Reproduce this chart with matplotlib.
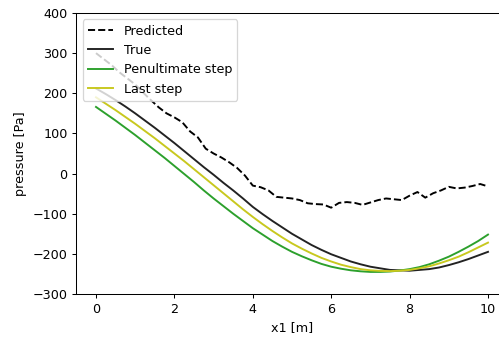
import matplotlib

matplotlib.use("Agg")

import matplotlib.pyplot as plt
import numpy as np

# x positions of the smooth curves (every 0.25 m)
x_curve = np.arange(0, 10.01, 0.25)
p_true = [212, 198, 183, 167, 150, 132, 114, 95, 76, 56, 36, 16, -3, -23, -42,
          -62, -83, -101, -118, -134, -150, -164, -178, -190, -201, -210, -219,
          -226, -232, -236, -240, -241, -242, -240, -238, -234, -228, -221,
          -213, -204, -195]
p_last = [190, 174, 158, 141, 124, 106, 88, 69, 50, 31, 11, -9, -29, -49, -69,
          -89, -108, -126, -143, -159, -174, -187, -199, -210, -219, -227,
          -233, -238, -241, -242.5, -243, -242, -240, -236, -231, -224, -216,
          -207, -196, -184, -172]
p_penult = [166, 149, 132, 114, 96, 77, 58, 39, 19, -1, -21, -42, -62, -81,
            -100, -118, -136, -152, -168, -182, -195, -206, -216, -225, -232,
            -237, -241, -243.5, -245, -245, -244, -241.5, -238, -233, -226,
            -217, -207, -195, -182, -168, -152]

# predicted (noisy) curve, every 0.2 m
x_pred = np.arange(0, 10.01, 0.2)
p_pred = [300, 285, 270, 252, 237, 222, 202, 183, 165, 150, 140, 128, 105, 90,
          62, 50, 40, 28, 14, -5, -30, -34, -42, -58, -60, -62, -66, -74, -76,
          -77, -85, -73, -71, -73, -78, -72, -66, -62, -64, -66, -55, -46, -60,
          -49, -42, -33, -37, -35, -31, -26, -32]

W, H, DPI = 499, 338, 92
fig = plt.figure(figsize=(W / DPI, H / DPI), dpi=DPI)
# axes run past the right edge, as in the cropped original
ax = fig.add_axes([76.4 / W, (H - 294) / H, 431.2 / W, 281 / H])

ax.plot(x_pred, p_pred, "k--", label="Predicted")
ax.plot(x_curve, p_true, color="#222222", label="True")
ax.plot(x_curve, p_penult, color="tab:green", label="Penultimate step")
ax.plot(x_curve, p_last, color="#c8c81e", label="Last step")

ax.set_xlim(-0.5, 10.5)
ax.set_ylim(-300, 400)
ax.set_xticks([0, 2, 4, 6, 8, 10])
ax.set_yticks(np.arange(-300, 401, 100))
ax.set_xlabel("x1 [m]")
ax.set_ylabel("pressure [Pa]")
ax.legend(loc="upper left")

fig.savefig("out.png", dpi=DPI)
plt.close(fig)
